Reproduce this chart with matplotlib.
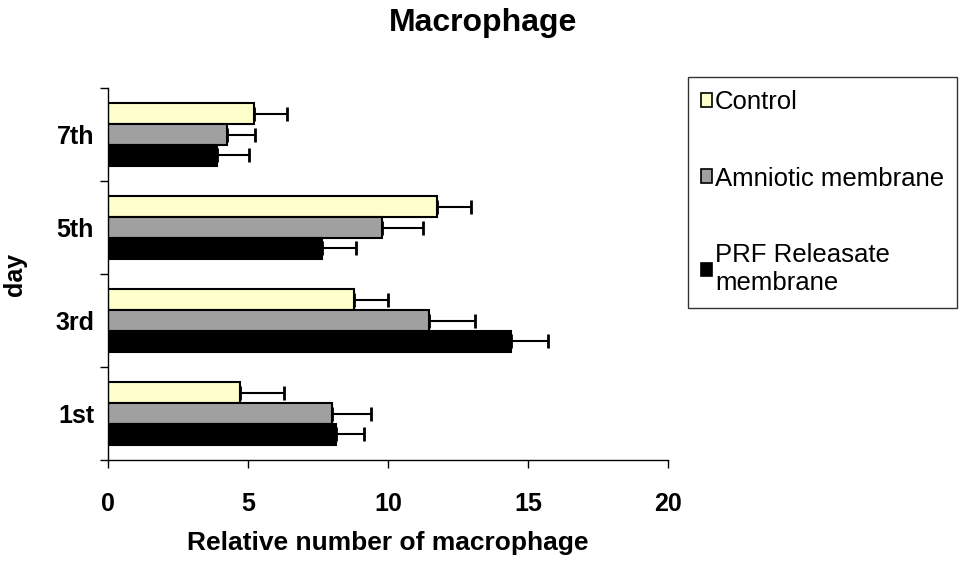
import numpy as np
import matplotlib
matplotlib.use('Agg')
import matplotlib.pyplot as plt
from matplotlib.patches import Patch

plt.rcParams['font.family'] = ['Liberation Sans', 'DejaVu Sans']

days = ['1st', '3rd', '5th', '7th']
series = ['Control', 'Amniotic membrane', 'PRF Releasate\nmembrane']
control = [4.7, 8.8, 11.75, 5.2]
amniotic = [8.0, 11.45, 9.8, 4.25]
prf = [8.15, 14.4, 7.65, 3.9]
control_err = [1.6, 1.2, 1.2, 1.2]
amniotic_err = [1.4, 1.65, 1.45, 1.0]
prf_err = [1.0, 1.3, 1.2, 1.15]
colors = ['#FFFFCC', '#A0A0A0', '#000000']

fig = plt.figure(figsize=(9.67, 5.61), dpi=100)
ax = fig.add_axes([108 / 967, 1 - 460 / 561, 560 / 967, 372 / 561])

y = np.arange(len(days))
h = 0.225
vals = [control, amniotic, prf]
errs = [control_err, amniotic_err, prf_err]
offsets = [h, 0, -h]
for v, e, off, c, lab in zip(vals, errs, offsets, colors, series):
    ax.barh(y + off, v, height=h, color=c, edgecolor='black', linewidth=1.5,
            label=lab, zorder=2)
    ax.errorbar(v, y + off, xerr=[np.zeros(len(v)), e], fmt='none',
                ecolor='black', elinewidth=1.5, capsize=5, capthick=2, zorder=1)

ax.set_xlim(0, 20)
ax.set_ylim(-0.5, len(days) - 0.5)
ax.set_xticks([0, 5, 10, 15, 20])
ax.set_yticks(y)
ax.set_yticklabels(days)
ax.set_yticks(np.arange(-0.5, len(days)), minor=True)
ax.tick_params(axis='y', which='major', length=0, pad=10)
ax.tick_params(axis='y', which='minor', length=6, width=1)
ax.tick_params(axis='x', length=6, width=1, pad=17)
for lbl in ax.get_xticklabels() + ax.get_yticklabels():
    lbl.set_fontsize(18)
    lbl.set_fontweight('bold')
for s in ['top', 'right']:
    ax.spines[s].set_visible(False)
for s in ['left', 'bottom']:
    ax.spines[s].set_linewidth(1)

ax.set_xlabel('Relative number of macrophage', fontsize=19, fontweight='bold',
              labelpad=11)
ax.set_ylabel('day', fontsize=18, fontweight='bold', labelpad=20)
fig.suptitle('Macrophage', fontsize=23, fontweight='bold', y=0.985)

handles = [Patch(facecolor=c, edgecolor='black', linewidth=1.2) for c in colors]
leg = fig.legend(handles, series, loc='upper left',
                 bbox_to_anchor=(688 / 967, 1 - 77 / 561), fontsize=18.5,
                 frameon=True, fancybox=False, edgecolor='black',
                 handlelength=0.45, handleheight=0.45, handletextpad=0.1,
                 labelspacing=2.05, borderpad=0.5, borderaxespad=0)
leg.get_frame().set_linewidth(1)

fig.savefig('out.png', dpi=100)
